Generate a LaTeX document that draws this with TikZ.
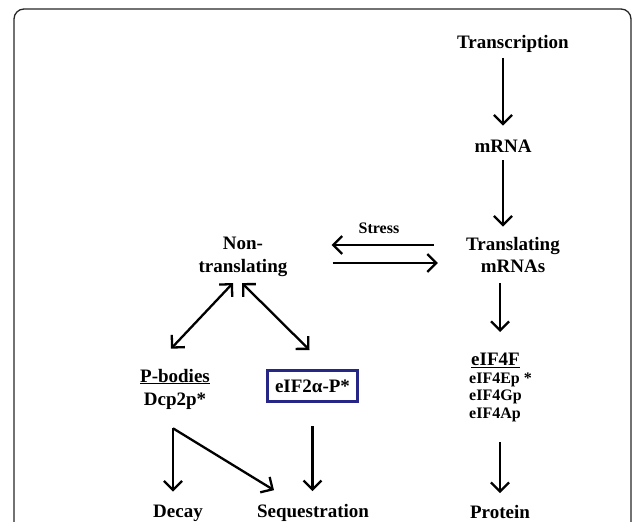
\documentclass[tikz,border=0pt]{standalone}
\usepackage{fontspec}
\setmainfont{Liberation Serif}
\usetikzlibrary{arrows.meta}
\definecolor{boxblue}{RGB}{38,38,135}
\tikzset{
  arr/.style={line width=2.3pt,-{Straight Barb[length=9pt,width=18pt]}},
  darr/.style={line width=2.3pt,{Straight Barb[length=9pt,width=18pt]}-{Straight Barb[length=9pt,width=18pt]}},
}
\begin{document}
\begin{tikzpicture}[x=1pt,y=-1pt,
  every node/.style={inner sep=0pt,align=center,font=\bfseries\fontsize{19}{23}\selectfont}]
  \clip (0,0) rectangle (633,522);
  \draw[line width=1.3pt,black!85,rounded corners=10pt] (14,9) rectangle (631,560);
  % right column
  \node (trans) at (513,44) {Transcription};
  \node (mrna) at (503,146) {mRNA};
  \node (tlm) at (513,255) {Translating\\mRNAs};
  \node (eif) [align=left,anchor=north west,font=\bfseries\fontsize{16}{17.5}\selectfont]
    at (469,353) {\hspace{2pt}{\fontsize{19}{17}\selectfont\underline{eIF4F}}\\eIF4Ep *\\eIF4Gp\\eIF4Ap};
  \node (protein) at (500,512) {Protein};
  \draw[arr,shorten <=5pt,shorten >=14pt] (trans.south -| mrna) -- (mrna.north);
  \draw[arr,shorten <=8pt,shorten >=10pt] (mrna.south) -- (mrna.south |- tlm.north);
  \draw[arr,shorten <=10pt,shorten >=21pt] (tlm.south -| protein) -- (protein |- eif.north);
  \draw[arr,shorten <=20pt,shorten >=12pt] (eif.south -| protein) -- (protein.north);
  % stress
  \node (nontr) at (243,257) {Non-\\translating};
  \node (stress) [font=\bfseries\fontsize{16}{18}\selectfont] at (379,228) {Stress};
  \draw[arr,shorten <=32pt,shorten >=44pt] ([yshift=10pt]tlm.west) -- ([yshift=10pt]tlm.west -| nontr.east);
  \draw[arr,shorten <=45pt,shorten >=28pt] ([yshift=-6pt]nontr.east) -- ([yshift=-6pt]nontr.east -| tlm.west);
  % left branches
  \node (pbod) at (175,389) {\underline{P-bodies}\\Dcp2p*};
  \node (eif2) [draw=boxblue,line width=3pt,minimum width=90pt,minimum height=31pt] at (312.5,386) {eIF2α-P*};
  \draw[darr] ([xshift=-10pt,yshift=-6pt]nontr.south) -- ([xshift=-4pt,yshift=20pt]pbod.north);
  \draw[darr] ([xshift=-1pt,yshift=-6pt]nontr.south) -- ([xshift=-3pt,yshift=19pt]eif2.north);
  \node (decay) at (178,513) {Decay};
  \node (seq) at (313,513) {Sequestration};
  \coordinate (split) at ([xshift=-2pt,yshift=-19pt]pbod.south);
  \draw[arr,shorten >=13pt] (split) -- (split |- decay.north);
  \draw[arr,line join=miter] (split) -- ([xshift=-39pt,yshift=14pt]seq.north);
  \draw[arr,shorten <=23pt,shorten >=13pt] (eif2.south) -- (eif2.south |- seq.north);
\end{tikzpicture}
\end{document}
